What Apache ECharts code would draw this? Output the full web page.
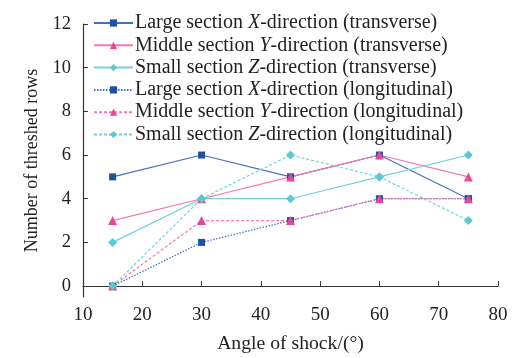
<!DOCTYPE html>
<html><head><meta charset="utf-8">
<script src="https://cdn.jsdelivr.net/npm/echarts@6/dist/echarts.min.js"></script>
<style>html,body{margin:0;padding:0;background:#fff}#c{width:514px;height:358px}</style>
</head><body><div id="c"></div>
<script>
var angles = [15, 30, 45, 60, 75];
var largeXTrans = [5, 6, 5, 6, 4];
var middleYTrans = [3, 4, 5, 6, 5];
var smallZTrans = [2, 4, 4, 5, 6];
var largeXLong = [0, 2, 3, 4, 4];
var middleYLong = [0, 3, 3, 4, 4];
var smallZLong = [0, 4, 6, 5, 3];
var yTicks = [0, 2, 4, 6, 8, 10, 12];

var F = 'Liberation Serif, Times New Roman, serif';
var BLUE = '#2150a0', BLUE_L = '#4a6cc0';
var PINK = '#e8489a', PINK_L = '#ef7ab4';
var CYAN = '#5cc8d2', CYAN_L = '#72d2da';

function pairs(v) { return angles.map(function (a, i) { return [a, v[i]]; }); }
function S(name, data, sym, mc, lc, type, size) {
  return {
    name: name, type: 'line', data: pairs(data), symbol: sym, symbolSize: size,
    itemStyle: { color: mc }, lineStyle: { color: lc, width: 1.2, type: type },
    emphasis: { disabled: true }
  };
}
var names = [
  'Large section {i|X}-direction (transverse)',
  'Middle section {i|Y}-direction (transverse)',
  'Small section {i|Z}-direction (transverse)',
  'Large section {i|X}-direction (longitudinal)',
  'Middle section {i|Y}-direction (longitudinal)',
  'Small section {i|Z}-direction (longitudinal)'
];
var series = [
  S('a', largeXTrans, 'rect', BLUE, BLUE_L, 'solid', 7),
  S('b', middleYTrans, 'triangle', PINK, PINK_L, 'solid', 9),
  S('c', smallZTrans, 'diamond', CYAN, CYAN_L, 'solid', 9),
  S('d', largeXLong, 'rect', BLUE, BLUE_L, [1.5, 1.5], 7),
  S('e', middleYLong, 'triangle', PINK, PINK_L, [3, 2], 9),
  S('f', smallZLong, 'diamond', CYAN, CYAN_L, [3, 2], 9)
];
var keyMap = { a: 0, b: 1, c: 2, d: 3, e: 4, f: 5 };
var chart = echarts.init(document.getElementById('c'));
chart.setOption({
  animation: false,
  grid: { left: 83, right: 16, top: 24, bottom: 61, outerBoundsMode: 'none', containLabel: false },
  legend: {
    left: 93, top: 13, orient: 'vertical', itemWidth: 39, itemHeight: 9, itemGap: 2.3,
    padding: 0,
    data: ['a', 'b', 'c', 'd', 'e', 'f'],
    formatter: function (n) { return names[keyMap[n]]; },
    textStyle: { fontFamily: F, fontSize: 20, color: '#222', padding: [0, 0, 0, -3],
      rich: { i: { fontFamily: F, fontSize: 20, fontStyle: 'italic', color: '#222' } } }
  },
  xAxis: {
    type: 'value', min: 10, max: 80, interval: 10,
    name: 'Angle of shock/(°)', nameLocation: 'middle', nameGap: 37,
    nameTextStyle: { fontFamily: F, fontSize: 19.7, color: '#222' },
    axisLine: { show: true, lineStyle: { color: '#333', width: 1.2 } },
    axisTick: { show: true, inside: true, length: 5, lineStyle: { color: '#333' } },
    axisLabel: { fontFamily: F, fontSize: 19, color: '#222', margin: 9 },
    splitLine: { show: false }
  },
  yAxis: {
    type: 'value', min: -0.5, max: 12,
    name: 'Number of threshed rows', nameLocation: 'middle', nameGap: 40,
    nameTextStyle: { fontFamily: F, fontSize: 18, color: '#222' },
    axisLine: { show: true, lineStyle: { color: '#333', width: 1.2 } },
    axisTick: { show: true, inside: true, length: 5, customValues: yTicks, lineStyle: { color: '#333' } },
    axisLabel: { fontFamily: F, fontSize: 18.5, color: '#222', margin: 12, customValues: yTicks },
    splitLine: { show: false }
  },
  series: series
});
</script></body></html>
